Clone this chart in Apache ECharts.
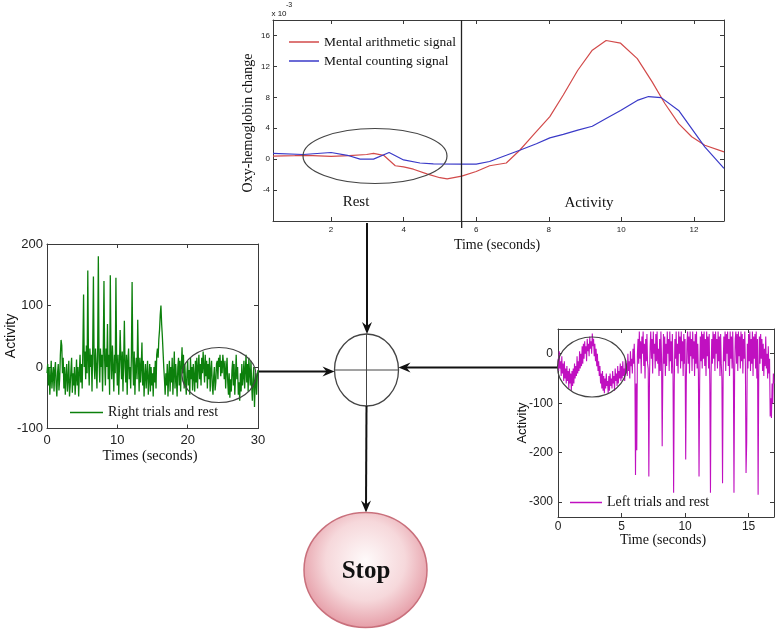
<!DOCTYPE html>
<html><head><meta charset="utf-8">
<script src="https://cdn.jsdelivr.net/npm/echarts@6/dist/echarts.min.js"></script>
<style>html,body{margin:0;padding:0;background:#fff}#c{width:776px;height:630px}</style>
</head><body><div id="c"></div>
<script>
// ---------- Top chart: oxy-hemoglobin change (x 10^-3) ----------
const redTime = [0.4, 1.0, 1.33, 2.0, 2.5, 2.98, 3.17, 3.45, 3.77, 4.0, 4.27, 4.64, 5.0, 5.2, 5.6, 6.0, 6.37, 6.83, 7.2, 7.57, 8.03, 8.4, 8.8, 9.2, 9.58, 9.98, 10.44, 10.85, 11.2, 11.58, 11.94, 12.3, 12.83];
const redOxy  = [0.4, 0.45, 0.5, 0.35, 0.45, 0.6, 0.75, 0.5, -0.85, -1.0, -1.3, -1.9, -2.4, -2.55, -2.2, -1.6, -0.85, -0.5, 1.15, 3.1, 5.5, 8.3, 11.5, 14.1, 15.35, 15.0, 13.0, 10.0, 7.2, 4.6, 2.9, 1.8, 0.95];
const blueTime = [0.4, 1.23, 2.0, 2.45, 2.8, 3.17, 3.6, 4.0, 4.45, 4.82, 5.6, 6.0, 6.37, 6.83, 7.2, 7.66, 8.03, 8.4, 8.8, 9.2, 9.58, 9.98, 10.44, 10.75, 11.1, 11.58, 11.94, 12.3, 12.83];
const blueOxy  = [0.75, 0.6, 0.86, 0.5, 0.0, 0.0, 0.86, -0.1, -0.5, -0.62, -0.64, -0.64, -0.3, 0.5, 1.16, 2.0, 2.75, 3.2, 3.75, 4.26, 5.25, 6.3, 7.6, 8.1, 7.96, 6.3, 3.96, 1.6, -1.2];
const restEnd = 5.6;
const topXTicks = [2, 4, 6, 8, 10, 12];
const topYTicks = [-4, 0, 4, 8, 12, 16];

// ---------- Left chart: right trials and rest (step 0.1 s) ----------
const rightStep = 0.1;
const rightActivity = [
-10,5,-30,0,-45,-20,10,-35,-15,0,
-40,-5,8,-30,-48,-10,5,-38,-20,20,
44,35,-10,15,-35,0,-45,-15,5,-40,
-20,10,-48,-30,-5,15,-42,-10,-30,0,
-45,-20,12,-30,0,-48,-10,20,-25,5,
-35,30,118,0,25,-20,35,-10,157,10,
-30,30,0,20,-40,35,147,5,-20,30,
0,-35,25,180,10,-25,30,0,20,-40,
25,140,10,-30,30,0,70,-20,20,-45,
149,15,-20,35,0,-40,20,-10,145,10,
-30,20,-45,0,60,15,-20,25,-40,10,
75,0,-25,20,-45,10,30,-20,0,-35,
20,138,10,-30,25,-45,0,15,-20,77,
5,-40,15,-25,0,40,-30,10,-48,-15,
5,-35,-10,10,-45,-20,5,-40,0,-30,
-10,-48,0,-25,10,-35,20,30,15,45,
60,85,100,70,50,25,0,-20,-45,-10,
-30,5,-48,-15,10,-40,0,-25,15,-45,
-10,25,-35,5,-20,-48,0,15,-30,10,
-40,0,32,-10,20,-35,5,-25,-45,-10,
10,-30,-5,-45,15,-20,0,-38,5,-15,
-40,10,-25,15,-35,0,20,-20,5,-30,
15,-10,25,0,-25,20,-15,10,-35,5,
-20,15,-40,-5,10,-30,-45,-15,0,-38,
-25,5,10,-20,15,0,20,-15,10,-10,
20,5,-20,10,-35,-5,15,-25,-45,-10,
-50,-20,-40,-5,10,-30,5,-45,-15,20,
-20,0,-45,-25,-55,-10,-40,5,-30,-15,
10,-35,-5,20,-25,5,-40,15,-10,-30,
10,-30,-55,-20,0,-65,-25,-10,-45,-15,
-5];
const leftXTicks = [0, 10, 20, 30];
const leftYTicks = [-100, 0, 100, 200];

// ---------- Right chart: left trials and rest (step 0.05 s) ----------
const leftStep = 0.05;
const leftActivity = [
-10,-35,5,-30,-15,-45,-5,-40,-20,-55,-15,-50,-30,-60,-25,-55,-35,-70,-30,-60,
-40,-75,-35,-65,-30,-60,-20,-50,-25,-45,-5,-40,-15,-35,5,-30,0,-25,15,-20,
20,-10,25,0,15,-15,30,5,20,-5,35,10,25,0,41,15,30,-5,20,-15,
10,-25,0,-35,-15,-45,-25,-60,-40,-70,-35,-75,-45,-80,-50,-70,-40,-65,-55,-80,
-45,-75,-40,-65,-50,-70,-35,-60,-45,-75,-30,-55,-40,-65,-25,-60,-35,-50,-20,-55,
-25,-50,-15,-45,-30,-55,-10,-40,-20,-45,0,-35,-15,-50,5,-25,-10,-40,10,-20,
20,-30,-245,-60,-195,0,30,-20,45,-10,25,-40,35,0,45,-25,20,-50,30,-15,
40,-20,-30,-248,-50,15,45,-10,30,-40,45,0,20,-30,40,-15,45,-20,10,-45,
30,-35,45,-10,-187,-40,40,-20,35,-45,20,-25,45,0,30,-35,45,-15,25,-40,
40,-30,-281,-60,30,-10,45,-25,20,-40,45,0,35,-30,45,-15,25,-45,40,-20,
30,-214,-50,20,45,-20,35,-40,45,-5,30,-35,45,-10,25,-45,40,-20,45,-30,
20,-40,-248,-55,35,-15,45,-30,40,-10,45,-25,30,-45,45,-5,35,-30,40,-60,
-281,-40,30,-20,45,-10,40,-35,45,0,30,-30,45,-15,35,-45,40,-20,-50,-262,
-30,35,-15,45,-35,40,0,45,-25,30,-45,45,-10,35,-30,45,-20,-281,-40,30,
45,-20,40,-35,45,-5,35,-30,45,-15,40,-40,30,-10,45,-25,-241,-180,20,-30,
40,-15,45,-35,30,-20,45,-45,35,-10,40,-30,45,-50,30,-285,-40,35,-20,40,
-10,30,-35,20,-45,10,-25,35,-30,0,-50,15,-40,-10,-127,-90,-130,-60,-100,-40,
-60];
const rightXTicks = [0, 5, 10, 15];
const rightYTicks = [-300, -200, -100, 0];

// ---------- helpers ----------
const AX = '#3a3a3a';
const SANS = '"Liberation Sans", Arial, sans-serif';
const SERIF = '"Liberation Serif", "Times New Roman", serif';
function xAx(gi, min, max, ticks, fs, margin, pos, showLabel) {
  return {type:'value', gridIndex:gi, min:min, max:max, position:pos,
    axisLine:{show:true, onZero:false, lineStyle:{color:AX, width:1}},
    axisTick:{show:true, inside:true, length:4, customValues:ticks, lineStyle:{color:AX}},
    axisLabel:{show:showLabel, customValues:ticks, fontSize:fs, margin:margin, color:'#222', fontFamily:SANS},
    splitLine:{show:false}};
}
function yAx(gi, min, max, ticks, fs, margin, pos, showLabel) {
  return {type:'value', gridIndex:gi, min:min, max:max, position:pos,
    axisLine:{show:true, onZero:false, lineStyle:{color:AX, width:1}},
    axisTick:{show:true, inside:true, length:4, customValues:ticks, lineStyle:{color:AX}},
    axisLabel:{show:showLabel, customValues:ticks, fontSize:fs, margin:margin, color:'#222', fontFamily:SANS},
    splitLine:{show:false}};
}
function head(x, y, dir) {
  const L = 12, W = 5, N = 8;
  let pts;
  if (dir === 'down') pts = [[x,y],[x-W,y-L],[x,y-N],[x+W,y-L]];
  else if (dir === 'right') pts = [[x,y],[x-L,y-W],[x-N,y],[x-L,y+W]];
  else pts = [[x,y],[x+L,y-W],[x+N,y],[x+L,y+W]];
  return {type:'polygon', z:100, shape:{points:pts}, style:{fill:'#111'}};
}
function seg(x1,y1,x2,y2,w,c) {
  return {type:'line', z:100, shape:{x1:x1,y1:y1,x2:x2,y2:y2}, style:{stroke:c||'#111', lineWidth:w||2}};
}
function ell(cx,cy,rx,ry,c,w) {
  return {type:'ellipse', z:100, shape:{cx:cx,cy:cy,rx:rx,ry:ry}, style:{fill:null, stroke:c||'#444', lineWidth:w||1.2}};
}
function txt(x,y,t,fs,fam,rot,extra) {
  return {type:'text', z:100, x:x, y:y, rotation:rot||0,
    style:Object.assign({text:t, fontSize:fs, fontFamily:fam, fill:'#111', align:'center', verticalAlign:'middle'}, extra||{})};
}

const chart = echarts.init(document.getElementById('c'));
const option = {
  animation:false,
  backgroundColor:'#fff',
  grid:[
    {left:273, top:20, width:451, height:201},
    {left:47, top:244, width:211, height:184.5},
    {left:558, top:329, width:216, height:188}
  ],
  xAxis:[
    xAx(0, 0.4, 12.83, topXTicks, 8, 5, 'bottom', true),
    xAx(0, 0.4, 12.83, topXTicks, 8, 5, 'top', false),
    xAx(1, 0, 30, leftXTicks, 13, 5, 'bottom', true),
    xAx(1, 0, 30, leftXTicks, 13, 5, 'top', false),
    xAx(2, 0, 17, rightXTicks, 12, 4, 'bottom', true),
    xAx(2, 0, 17, rightXTicks, 12, 4, 'top', false)
  ],
  yAxis:[
    yAx(0, -8, 18, topYTicks, 8, 3, 'left', true),
    yAx(0, -8, 18, topYTicks, 8, 3, 'right', false),
    yAx(1, -100, 200, leftYTicks, 13, 4, 'left', true),
    yAx(1, -100, 200, leftYTicks, 13, 4, 'right', false),
    yAx(2, -330, 50, rightYTicks, 12, 5, 'left', true),
    yAx(2, -330, 50, rightYTicks, 12, 5, 'right', false)
  ],
  legend:[
    {data:['Mental arithmetic signal','Mental counting signal'], orient:'vertical', left:289, top:35, padding:0,
     itemWidth:30, itemHeight:1.5, itemGap:5, icon:'rect', selectedMode:false,
     textStyle:{fontFamily:SERIF, fontSize:13.5, color:'#111', lineHeight:14}},
    {data:['Right trials and rest'], left:70, top:405, padding:0, itemWidth:33, itemHeight:1.5, icon:'rect', selectedMode:false,
     textStyle:{fontFamily:SERIF, fontSize:14, color:'#111', lineHeight:15}},
    {data:['Left trials and rest'], left:570, top:495, padding:0, itemWidth:32, itemHeight:1.5, icon:'rect', selectedMode:false,
     textStyle:{fontFamily:SERIF, fontSize:14, color:'#111', lineHeight:15}}
  ],
  series:[
    {name:'Mental arithmetic signal', type:'line', xAxisIndex:0, yAxisIndex:0, symbol:'none', color:'#d24a4a',
     lineStyle:{width:1.2}, data:redTime.map((t,i)=>[t, redOxy[i]]),
     markLine:{silent:true, symbol:['none','none'], label:{show:false}, lineStyle:{color:'#222', type:'solid', width:1.3},
       data:[{xAxis:restEnd}]}},
    {name:'Mental counting signal', type:'line', xAxisIndex:0, yAxisIndex:0, symbol:'none', color:'#3a3ac8',
     lineStyle:{width:1.2}, data:blueTime.map((t,i)=>[t, blueOxy[i]])},
    {name:'Right trials and rest', type:'line', xAxisIndex:2, yAxisIndex:2, symbol:'none', color:'#0c800c',
     lineStyle:{width:1.3}, data:rightActivity.map((v,i)=>[+(i*rightStep).toFixed(2), v])},
    {name:'Left trials and rest', type:'line', xAxisIndex:4, yAxisIndex:4, symbol:'none', color:'#c010c0',
     lineStyle:{width:1.1}, data:leftActivity.map((v,i)=>[+(i*leftStep).toFixed(2), v])}
  ]
};
chart.setOption(option);

const restPx = chart.convertToPixel({xAxisIndex:0, yAxisIndex:0}, [restEnd, -8]);

const g = [
  txt(279, 14, 'x 10', 8, SANS),
  txt(289, 5, '-3', 7, SANS),
  txt(248, 123, 'Oxy-hemoglobin change', 14, SERIF, Math.PI/2),
  txt(356, 202, 'Rest', 15, SERIF),
  txt(589, 203, 'Activity', 15, SERIF),
  txt(497, 245, 'Time (seconds)', 14, SERIF),
  seg(restPx[0], restPx[1], restPx[0], restPx[1] + 7, 1.3, '#222'),
  txt(11, 336, 'Activity', 14, SANS, Math.PI/2),
  txt(150, 456, 'Times (seconds)', 14.5, SERIF),
  txt(522, 423, 'Activity', 13, SANS, Math.PI/2),
  txt(663, 540, 'Time (seconds)', 14, SERIF),
  ell(375, 156, 72, 27.5),
  ell(219, 375, 37, 27.5),
  ell(592, 367, 34.5, 30),
  ell(366.5, 370, 32, 36, '#444', 1.3),
  seg(334.5, 370, 398.5, 370, 1, '#444'),
  seg(366.5, 334, 366.5, 406, 1, '#444'),
  seg(367, 223, 367, 326, 2), head(367, 334, 'down'),
  seg(259, 371.5, 327, 371.5, 2), head(334.5, 371.5, 'right'),
  seg(557, 367.5, 406, 367.5, 2), head(398.5, 367.5, 'left'),
  seg(366.5, 406, 366, 505, 2), head(366, 512.5, 'down'),
  {type:'ellipse', z:100, shape:{cx:365.5, cy:570, rx:61.5, ry:57.5},
   style:{fill:{type:'radial', x:0.5, y:0.42, r:0.62, colorStops:[
     {offset:0, color:'#fefafa'}, {offset:0.55, color:'#f6d8db'}, {offset:1, color:'#e3949f'}]},
     stroke:'#c9707c', lineWidth:1.5}},
  txt(366, 572, 'Stop', 25, SERIF, 0, {fontWeight:'bold'})
];
chart.setOption({graphic:{elements:g}});
</script></body></html>
